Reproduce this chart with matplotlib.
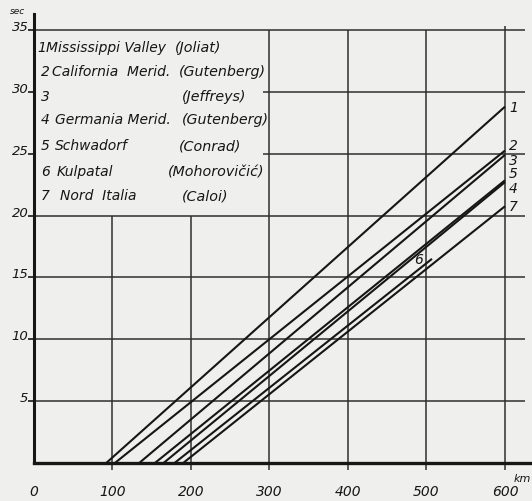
import matplotlib
matplotlib.use('Agg')
import matplotlib.pyplot as plt

# travel-time lines: t = 0 at x_start, running up to (x_end, t_end)
curve_ids = ['1', '2', '3', '4', '5', '6', '7']
x_start = [92, 103, 134, 165, 154, 179, 190]      # km
x_end = [600, 600, 600, 600, 600, 507, 600]       # km
t_end = [28.8, 25.25, 24.9, 22.7, 22.85, 16.5, 20.75]  # sec

# label spots for the line numbers (km, sec)
id_x = [605, 605, 605, 605, 605, 484, 605]
id_y = [28.8, 25.7, 24.5, 22.2, 23.4, 16.5, 20.8]

# legend block
leg_num = ['1', '2', '3', '4', '5', '6', '7']
leg_site = ['Mississippi Valley', 'California  Merid.', '', 'Germania Merid.',
            'Schwadorf', 'Kulpatal', 'Nord  Italia']
leg_author = ['(Joliat)', '(Gutenberg)', '(Jeffreys)', '(Gutenberg)',
              '(Conrad)', '(Mohorovičić)', '(Caloi)']
leg_y = [33.27, 31.33, 29.31, 27.45, 25.34, 23.24, 21.30]
num_x = [4.5, 8.5, 8.5, 8.5, 8.5, 8.5, 8.5]
site_x = [15.5, 23.5, 0, 27, 26.5, 29, 33]
auth_x = [179, 184, 188, 189, 185, 171, 188]

xticks = [0, 100, 200, 300, 400, 500, 600]
yticks = [5, 10, 15, 20, 25, 30, 35]

BG = '#efefed'
INK = '#161616'
GRID = '#2e2e2e'

fig = plt.figure(figsize=(5.32, 5.02), dpi=100, facecolor=BG)
ax = fig.add_axes([34/532, 38/502, 498/532, 464/502], facecolor=BG)
ax.set_xlim(0, 634.4)
ax.set_ylim(0, 37.5)

# grid -- the legend corner (0-300 km, 20-35 s) is left blank
ax.hlines([5, 10, 15, 20], 0, 625, color=GRID, lw=1.1, zorder=1)
ax.hlines([25, 30], 292, 625, color=GRID, lw=1.1, zorder=1)
ax.hlines([35], 0, 625, color=GRID, lw=1.1, zorder=1)
ax.vlines([100, 200], 0, 20, color=GRID, lw=1.1, zorder=1)
ax.vlines([300, 400, 500], 0, 35, color=GRID, lw=1.1, zorder=1)
ax.vlines([600], 0, 35.3, color=GRID, lw=1.1, zorder=1)

for cid, x0, x1, t1 in zip(curve_ids, x_start, x_end, t_end):
    ax.plot([x0, x1], [0, t1], color=INK, lw=1.5, zorder=3,
            solid_capstyle='butt')

for cid, lx, ly in zip(curve_ids, id_x, id_y):
    ax.text(lx, ly, cid, fontsize=10, style='italic', color=INK,
            ha='left', va='center', clip_on=False)

for n, s, a, y, nx, sx, axx in zip(leg_num, leg_site, leg_author, leg_y,
                                   num_x, site_x, auth_x):
    ax.text(nx, y, n, fontsize=10, style='italic', color=INK, va='baseline')
    if s:
        ax.text(sx, y, s, fontsize=10, style='italic', color=INK, va='baseline')
    ax.text(axx, y, a, fontsize=10.3, style='italic', color=INK, va='baseline')

# axes
for s in ['top', 'right']:
    ax.spines[s].set_visible(False)
ax.spines['left'].set_linewidth(2.2)
ax.spines['left'].set_bounds(0, 36.3)
ax.spines['bottom'].set_linewidth(2.4)
for s in ['left', 'bottom']:
    ax.spines[s].set_color(INK)

ax.set_xticks(xticks)
ax.set_xticklabels([str(v) for v in xticks], fontsize=10, style='italic',
                   color=INK)
ax.tick_params(axis='x', direction='out', length=5, width=1.1, pad=10,
               color=GRID)
ax.xaxis.get_major_ticks()[0].tick1line.set_visible(False)

ax.set_yticks(yticks)
ax.set_yticklabels([str(v) for v in yticks], fontsize=9.5, style='italic',
                   color=INK, va='baseline')
ax.tick_params(axis='y', direction='out', length=4, width=1.2, pad=0,
               color=INK)

ax.text(-21, 36.6, 'sec', fontsize=6.5, style='italic', color=INK,
        ha='center', va='center', clip_on=False)
ax.text(611, -1.2, 'km', fontsize=8, style='italic', color=INK,
        ha='left', va='center', clip_on=False)

fig.savefig('out.png', dpi=100, facecolor=BG)
